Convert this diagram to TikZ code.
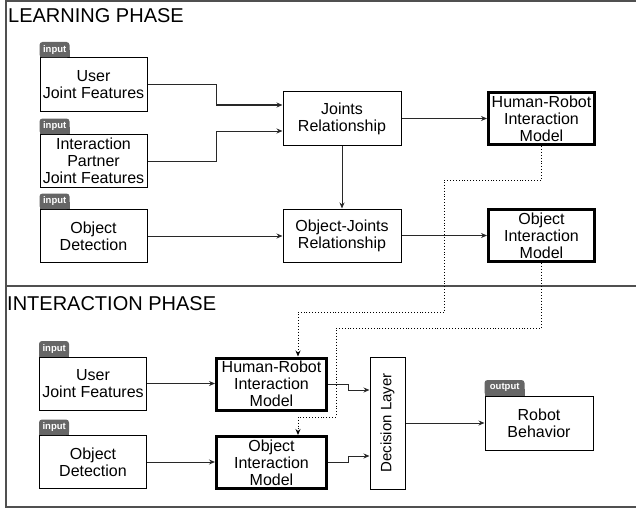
\documentclass[tikz,border=0pt]{standalone}
\usepackage{fontspec}
\setmainfont{Liberation Sans}
\usetikzlibrary{arrows.meta,calc}
\definecolor{tagcol}{RGB}{102,102,102}
\definecolor{framecol}{RGB}{80,80,80}
\definecolor{linecol}{RGB}{40,40,40}
\newcommand{\phasetag}[4]{%
  \fill[tagcol,rounded corners=3pt] (#1.north west) rectangle ++(#3,-15.5);
  \fill[tagcol] (#1.north west) rectangle ++(#3,-7);
  \node[tagtext,minimum width=#3 pt,anchor=south west] (#2) at (#1.north west) {#4};}
\begin{document}
\begin{tikzpicture}[x=1pt,y=-1pt,
  box/.style={draw=black,line width=1pt,inner sep=0pt,align=center,
    font=\fontsize{16}{17}\selectfont,minimum width=107pt,minimum height=53pt},
  model/.style={box,line width=3pt,minimum width=106pt,minimum height=52pt},
  tagtext/.style={text=white,font=\bfseries\fontsize{9.5}{10}\selectfont,
    inner sep=0pt,minimum height=15.5pt},
  arr/.style={draw=linecol,line width=1pt,-{Stealth[length=6pt,width=5pt]}},
  dotarr/.style={draw=black,line width=0.9pt,dotted,-{Stealth[length=6pt,width=5pt]}},
  phasetitle/.style={font=\fontsize{20}{20}\selectfont,anchor=base west,inner sep=0pt},
  frameline/.style={draw=framecol,line width=1.2pt}]
\useasboundingbox (0,0) rectangle (636,508);
% frame
\draw[frameline] (636,1) -- (6,1) -- (6,507) -- (636,507);
\draw[frameline] (6,286) -- (636,286);
\node[phasetitle] (t1) at (8,23) {LEARNING PHASE};
\node[phasetitle] (t2) at (7,310) {INTERACTION PHASE};

% learning phase
\node[box] (ujf) at (93.5,84.5) {User\\Joint Features};
\node[box] (ipjf) at (93.5,161) {Interaction\\Partner\\Joint Features};
\node[box] (od) at (93.5,236) {Object\\Detection};
\phasetag{ujf}{tagA}{30}{input}
\phasetag{ipjf}{tagB}{30}{input}
\phasetag{od}{tagC}{30}{input}
\node[box,minimum width=118pt] (jr) at (342,118.5) {Joints\\Relationship};
\node[box,minimum width=118pt] (ojr) at (342,235.5) {Object-Joints\\Relationship};
\node[model] (hrim) at (541.5,118.5) {Human-Robot\\Interaction\\Model};
\node[model] (oim) at (541.5,235.5) {Object\\Interaction\\Model};

\coordinate (j1) at (216,105);
\coordinate (j2) at (216,131);
\draw[arr] (ujf.east) -| (j1) -- (jr.west |- j1);
\draw[arr] (ipjf.east) -| (j2) -- (jr.west |- j2);
\draw[arr] (od.east) -- (ojr.west |- od.east);
\draw[arr] (jr.south) -- (ojr.north);
\draw[arr] (jr.east) -- (hrim.west);
\draw[arr] (ojr.east) -- (oim.west);

% interaction phase
\node[box] (ujf2) at (93,383.5) {User\\Joint Features};
\node[box] (od2) at (93,462) {Object\\Detection};
\phasetag{ujf2}{tagD}{30}{input}
\phasetag{od2}{tagE}{30}{input}
\node[model,minimum width=110pt] (hrim2) at (271.5,384) {Human-Robot\\Interaction\\Model};
\node[model,minimum width=110pt] (oim2) at (271.5,462.5) {Object\\Interaction\\Model};
\node[box,minimum width=35pt,minimum height=132pt] (dl) at (387.5,423)
  {\rotatebox{90}{\fontsize{15}{15}\selectfont Decision Layer}};
\node[box,minimum width=108pt,minimum height=54pt] (rb) at (539,423) {Robot\\Behavior};
\phasetag{rb}{tagF}{40}{output}

\draw[arr] (ujf2.east) -- (hrim2.west |- ujf2.east);
\draw[arr] (od2.east) -- (oim2.west |- od2.east);
\coordinate (k1) at (348,390);
\coordinate (k2) at (348,456);
\draw[arr] (hrim2.east) -| (k1) -- (dl.west |- k1);
\draw[arr] (oim2.east) -| (k2) -- (dl.west |- k2);
\draw[arr] (dl.east) -- (rb.west);

% dotted transfers
\coordinate (d1) at (444,180);
\coordinate (d2) at (298,312);
\draw[dotarr] (hrim.south) |- (d1) |- (d2) -- (hrim2.north -| d2);
\coordinate (e1) at (336,328);
\coordinate (e2) at (298,417);
\draw[dotarr] (oim.south) |- (e1) |- (e2) -- (oim2.north -| e2);
\end{tikzpicture}
\end{document}
